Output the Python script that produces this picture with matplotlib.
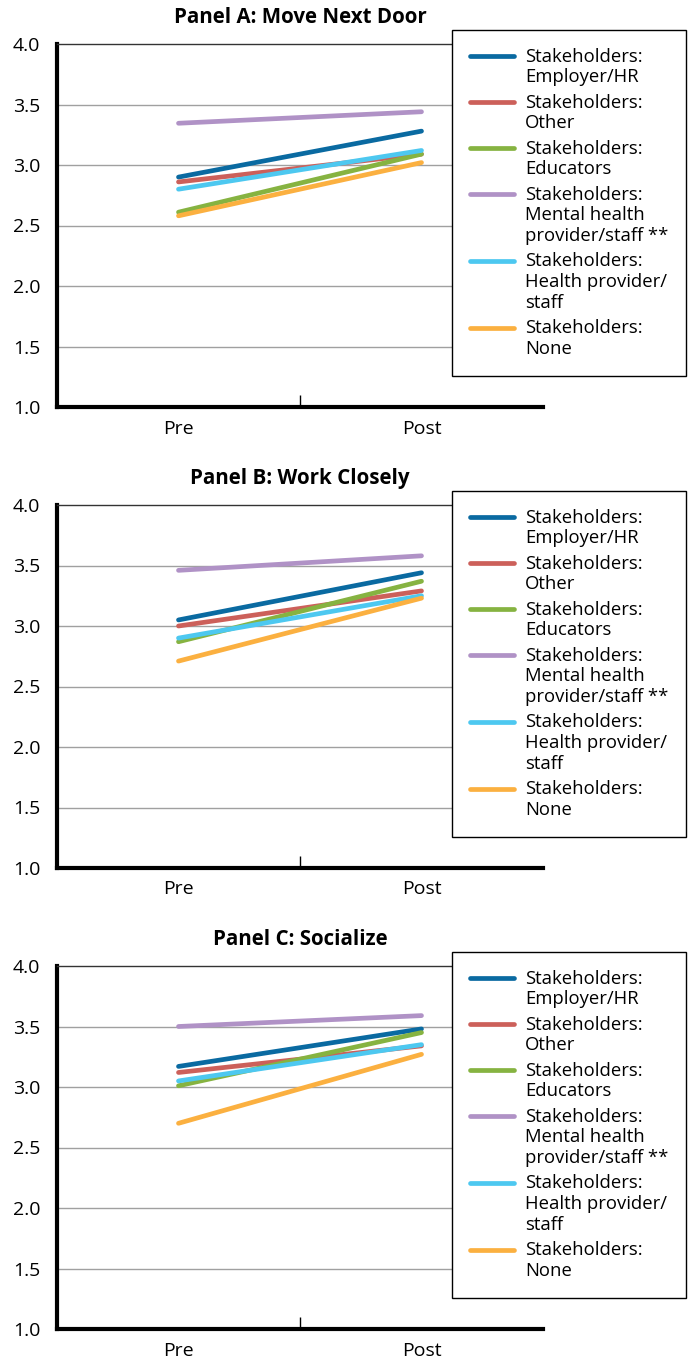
import matplotlib.pyplot as plt
from matplotlib.ticker import FixedLocator

plt.rcParams['font.family'] = ['Open Sans', 'DejaVu Sans']

# data
periods = ['Pre', 'Post']
groups = ['Stakeholders:\nEmployer/HR', 'Stakeholders:\nOther', 'Stakeholders:\nEducators',
          'Stakeholders:\nMental health\nprovider/staff **', 'Stakeholders:\nHealth provider/\nstaff',
          'Stakeholders:\nNone']
colors = ['#0a6aa1', '#cc605a', '#86b341', '#b092c6', '#4dc8f0', '#fbb040']
titles = ['Panel A: Move Next Door', 'Panel B: Work Closely', 'Panel C: Socialize']

panel_a = [[2.90, 3.28], [2.86, 3.09], [2.61, 3.09], [3.345, 3.44], [2.80, 3.12], [2.58, 3.02]]
panel_b = [[3.05, 3.44], [3.00, 3.29], [2.87, 3.37], [3.46, 3.58], [2.90, 3.25], [2.71, 3.23]]
panel_c = [[3.17, 3.48], [3.12, 3.34], [3.01, 3.45], [3.50, 3.59], [3.05, 3.35], [2.70, 3.27]]
panels = [panel_a, panel_b, panel_c]

W, H = 691, 1357
fs_leg = 13.3
fig = plt.figure(figsize=(W / 100, H / 100), dpi=100)

tops = [44, 505, 966]
for i in range(3):
    top = tops[i]
    ax = fig.add_axes([57 / W, 1 - (top + 363) / H, 486 / W, 363 / H])
    for j in range(len(groups)):
        ax.plot([0, 1], panels[i][j], color=colors[j], lw=3.4, solid_capstyle='round',
                label=groups[j], zorder=3)
    ax.set_xlim(-0.5, 1.5)
    ax.set_ylim(1.0, 4.0)
    ax.set_yticks([1.0, 1.5, 2.0, 2.5, 3.0, 3.5, 4.0])
    ax.set_yticklabels(['1.0', '1.5', '2.0', '2.5', '3.0', '3.5', '4.0'], fontsize=14)
    ax.set_xticks([0, 1])
    ax.set_xticklabels(periods, fontsize=14)
    ax.xaxis.set_minor_locator(FixedLocator([0.5]))
    ax.tick_params(axis='x', which='major', length=0, pad=9)
    ax.tick_params(axis='x', which='minor', direction='in', length=9, width=1)
    ax.tick_params(axis='y', length=0, pad=12)
    for y in [1.5, 2.0, 2.5, 3.0, 3.5]:
        ax.axhline(y, color='#a0a0a0', lw=1, zorder=1)
    ax.spines['left'].set_linewidth(3)
    ax.spines['bottom'].set_linewidth(3)
    ax.spines['top'].set_linewidth(1)
    ax.spines['top'].set_color('#333333')
    ax.spines['right'].set_visible(False)
    ax.set_title(titles[i], fontsize=14.8, fontweight='bold', x=(300 - 57) / 486,
                 pad=15)
    leg = ax.legend(loc='upper left', bbox_to_anchor=(452 / W, 1 - (top - 14) / H),
                    bbox_transform=fig.transFigure, borderaxespad=0,
                    fontsize=fs_leg, frameon=True, fancybox=False, handlelength=2.4,
                    handletextpad=0.6, labelspacing=0.39, borderpad=0.95,
                    edgecolor='black', framealpha=1)
    leg.get_frame().set_linewidth(1)
    # put each handle next to the first line of its label
    for line, lab in zip(leg.get_lines(), groups):
        line.set_linewidth(3.4)
        n = lab.count('\n')
        yd = line.get_ydata()
        shift = n * 1.2 * fs_leg / 2
        line.set_ydata([v + shift for v in yd])

fig.savefig('out.png', dpi=100)
